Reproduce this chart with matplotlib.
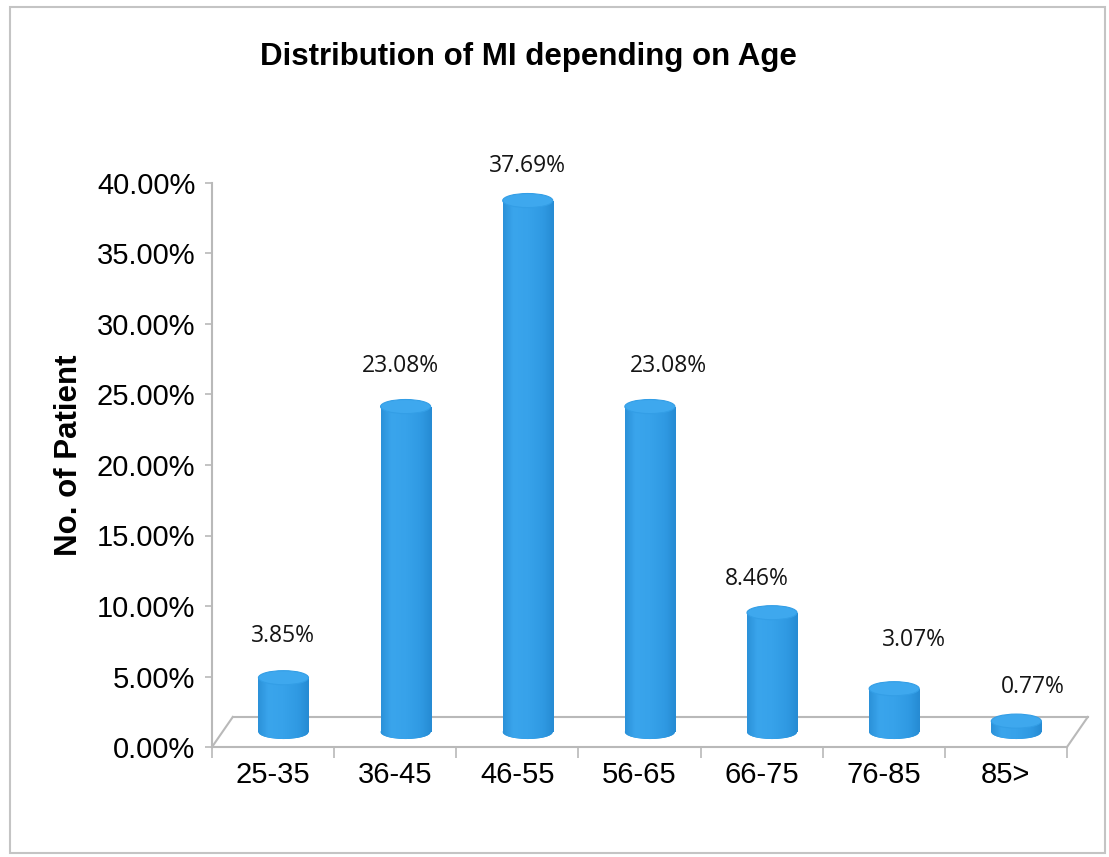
import numpy as np
import matplotlib
matplotlib.use("Agg")
import matplotlib.pyplot as plt
from matplotlib.patches import Ellipse, Rectangle
from matplotlib.colors import LinearSegmentedColormap
from matplotlib import font_manager

# ---- data -------------------------------------------------------------
age_groups = ["25-35", "36-45", "46-55", "56-65", "66-75", "76-85", "85>"]
share_pct = [3.85, 23.08, 37.69, 23.08, 8.46, 3.07, 0.77]
y_ticks = [0, 5, 10, 15, 20, 25, 30, 35, 40]


def pick(*names):
    avail = {f.name for f in font_manager.fontManager.ttflist}
    for n in names:
        if n in avail:
            return n
    return "DejaVu Sans"


SANS = pick("Liberation Sans", "Arial")
NARROW = pick("Liberation Sans Narrow", "Liberation Sans")
LABEL = pick("Open Sans", "Noto Sans", "Lato")

W, H = 1109, 857
fig = plt.figure(figsize=(W / 100, H / 100), dpi=100)
fig.patch.set_facecolor("white")

# outer chart frame
fig.patches.append(Rectangle((10 / W, 1 - 853 / H), 1095 / W, 846 / H,
                             transform=fig.transFigure, fill=False,
                             ec="#c4c4c4", lw=1.5))

ax = fig.add_axes([212 / W, 1 - 747 / H, 855 / W, 564 / H])
ax.set_facecolor("none")

# pseudo-3D geometry (depth of the floor in data units)
depth_x, depth_y = 0.17, 2.13
bar_w = 0.41
cap_h = 1.0
x = np.arange(len(age_groups))
xc = x + depth_x / 2
base = depth_y / 2

grid_col = "#b9b9b9"
# floor outline
n = len(age_groups)
ax.plot([-0.5 + depth_x, n - 0.5 + depth_x], [depth_y, depth_y], color=grid_col,
        lw=1.5, zorder=1, clip_on=False)
ax.plot([-0.5, -0.5 + depth_x], [0, depth_y], color=grid_col, lw=1.5, zorder=1,
        clip_on=False)
ax.plot([n - 0.5, n - 0.5 + depth_x], [0, depth_y], color=grid_col, lw=1.5,
        zorder=1, clip_on=False)
ax.plot([-0.5, n - 0.5], [0, 0], color=grid_col, lw=1.5, zorder=2, clip_on=False)

# cylinder shading
shade = LinearSegmentedColormap.from_list(
    "cyl", [(0.0, "#2b91d9"), (0.2, "#3aa5ec"), (0.5, "#37a2ea"),
            (0.8, "#2f99e2"), (1.0, "#268bd3")])
grad = np.linspace(0, 1, 64)[None, :]

bars = ax.bar(xc, share_pct, bottom=base, width=bar_w, color="#329de6",
              lw=0, zorder=3)
for rect, xi, v in zip(bars, xc, share_pct):
    bottom = Ellipse((xi, base), bar_w, cap_h, facecolor="#329de6", lw=0,
                     zorder=3)
    ax.add_patch(bottom)
    for clip in (rect, bottom):
        im = ax.imshow(grad, extent=(xi - bar_w / 2, xi + bar_w / 2,
                                     base - cap_h, base + v + cap_h),
                       cmap=shade, aspect="auto", interpolation="bilinear",
                       zorder=4)
        im.set_clip_path(clip)
    top = Ellipse((xi, base + v), bar_w, cap_h, facecolor="#3ea8ee",
                  edgecolor="#339ee6", lw=0.8, zorder=5)
    ax.add_patch(top)

# value labels (small per-label nudges in pixels)
nudge_px = [(-1, 35), (-5, 34), (0, 28), (19, 34), (-15, 27), (20, 42), (17, 27)]
for xi, v, (dx, dy) in zip(xc, share_pct, nudge_px):
    ax.annotate(f"{v:.2f}%", (xi, base + v + cap_h / 2),
                xytext=(dx * 0.72, dy * 0.72), textcoords="offset points",
                ha="center", va="center", fontsize=16.5, family=LABEL,
                color="#151515", annotation_clip=False)

# axes
ax.set_xlim(-0.5, n - 0.5)
ax.set_ylim(0, 40)
for s in ("top", "right", "bottom"):
    ax.spines[s].set_visible(False)
ax.spines["left"].set_color(grid_col)
ax.spines["left"].set_linewidth(1.5)
ax.set_yticks(y_ticks)
ax.set_yticklabels([f"{t:.2f}%" for t in y_ticks])
ax.tick_params(axis="y", length=5, width=1.2, color=grid_col, pad=7,
               labelsize=21)
ax.set_xticks(x)
ax.set_xticklabels(age_groups)
ax.set_xticks(np.arange(n + 1) - 0.5, minor=True)
ax.tick_params(axis="x", which="major", length=0, pad=10, labelsize=21)
ax.tick_params(axis="x", which="minor", length=8, width=1.2, color=grid_col)
for lab in ax.get_xticklabels() + ax.get_yticklabels():
    lab.set_family(SANS)

fig.text(69 / W, 1 - 455 / H, "No. of Patient", rotation=90, ha="center",
         va="center", fontsize=22.5, fontweight="bold", family=SANS)
fig.text(528 / W, 1 - 57 / H, "Distribution of MI depending on Age",
         ha="center", va="center", fontsize=22.5, fontweight="bold",
         family=NARROW)

fig.savefig("out.png", dpi=100)
